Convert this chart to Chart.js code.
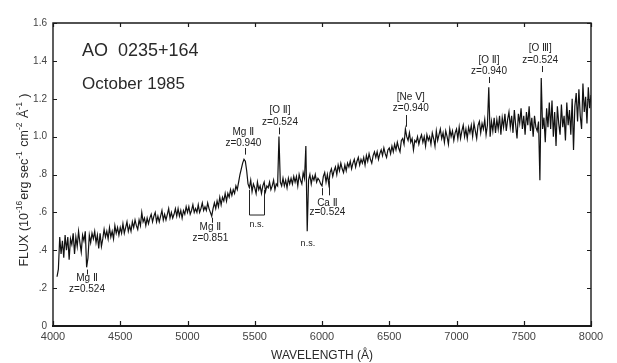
<!DOCTYPE html>
<html>
<head>
<meta charset="utf-8">
<script src="https://cdn.jsdelivr.net/npm/chart.js@4/dist/chart.umd.min.js"></script>
<style>
  html, body { margin: 0; padding: 0; background: #ffffff; }
  canvas { display: block; }
</style>
</head>
<body>
<canvas id="spec" width="617" height="363"></canvas>
<script>
// Spectrum of AO 0235+164, October 1985: flux sampled every 10 Å from 4030 Å
const SPEC_START = 4030;
const SPEC_STEP = 10;

// 4030 – 4990 Å
const fluxBlue = [
  0.26, 0.30, 0.47, 0.38, 0.45, 0.36, 0.48,
  0.40, 0.47, 0.35, 0.46, 0.43, 0.49, 0.38, 0.47, 0.42, 0.50,
  0.44, 0.39, 0.48, 0.45, 0.50, 0.31, 0.36, 0.48, 0.44, 0.49,
  0.46, 0.50, 0.44, 0.48, 0.41, 0.49, 0.42, 0.46, 0.51, 0.47,
  0.50, 0.46, 0.52, 0.47, 0.50, 0.46, 0.53, 0.49, 0.52, 0.48,
  0.52, 0.49, 0.54, 0.49, 0.52, 0.55, 0.50, 0.53, 0.50, 0.55,
  0.52, 0.56, 0.53, 0.51, 0.56, 0.53, 0.60, 0.55, 0.57, 0.53,
  0.57, 0.54, 0.57, 0.59, 0.55, 0.58, 0.60, 0.55, 0.58, 0.55,
  0.58, 0.61, 0.56, 0.59, 0.56, 0.59, 0.62, 0.57, 0.60, 0.57,
  0.59, 0.62, 0.58, 0.62, 0.58, 0.61, 0.57, 0.61, 0.59, 0.63
];

// 5000 – 6590 Å
const fluxMid = [
  0.60, 0.63, 0.59, 0.61, 0.64, 0.60, 0.62, 0.60, 0.64, 0.60,
  0.62, 0.65, 0.61, 0.63, 0.61, 0.65, 0.62, 0.60, 0.58, 0.62,
  0.65, 0.62, 0.66, 0.63, 0.68, 0.64, 0.68, 0.66, 0.70, 0.66,
  0.70, 0.68, 0.72, 0.69, 0.72, 0.70, 0.74, 0.72, 0.76, 0.80,
  0.83, 0.86, 0.88, 0.87, 0.82, 0.75, 0.73, 0.77, 0.71, 0.75,
  0.73, 0.70, 0.76, 0.72, 0.74, 0.70, 0.74, 0.76, 0.71, 0.74,
  0.73, 0.76, 0.72, 0.74, 0.77, 0.72, 0.75, 0.74, 1.00, 0.76,
  0.74, 0.78, 0.74, 0.77, 0.73, 0.78, 0.75, 0.78, 0.75, 0.79,
  0.76, 0.79, 0.74, 0.80, 0.77, 0.75, 0.81, 0.78, 0.95, 0.50,
  0.77, 0.80, 0.75, 0.79, 0.77, 0.80, 0.76, 0.78, 0.77, 0.75,
  0.74, 0.79, 0.81, 0.76, 0.80, 0.75, 0.81, 0.83, 0.79, 0.82,
  0.84, 0.80, 0.85, 0.82, 0.86, 0.83, 0.81, 0.85, 0.82, 0.86,
  0.84, 0.87, 0.83, 0.86, 0.88, 0.84, 0.87, 0.89, 0.85, 0.88,
  0.86, 0.89, 0.85, 0.90, 0.87, 0.91, 0.88, 0.86, 0.90, 0.92,
  0.89, 0.92, 0.88, 0.91, 0.93, 0.90, 0.94, 0.91, 0.89, 0.93,
  0.94, 0.91, 0.95, 0.92, 0.96, 0.93, 0.97, 0.94, 0.92, 0.98
];

// 6600 – 8000 Å
const fluxRed = [
  0.99, 0.96, 1.04, 1.00, 0.98, 1.02, 0.97, 0.99, 0.93, 0.98,
  0.97, 1.00, 0.96, 0.99, 1.01, 0.97, 1.00, 0.95, 1.01, 0.98,
  1.00, 0.96, 1.02, 0.99, 0.95, 1.03, 0.98, 1.01, 1.04, 0.99,
  1.02, 0.97, 1.03, 1.00, 0.96, 1.04, 1.00, 1.03, 0.98, 1.02,
  1.04, 0.99, 1.05, 0.99, 1.03, 1.06, 1.00, 1.04, 0.99, 1.05,
  1.02, 1.06, 1.00, 1.07, 1.03, 0.99, 1.06, 1.08, 1.02, 1.07,
  1.04, 1.09, 1.01, 1.06, 1.26, 1.00, 1.08, 1.03, 1.10, 1.02,
  1.09, 1.04, 1.11, 1.01, 1.10, 1.05, 1.12, 1.03, 1.09, 1.13,
  1.05, 1.11, 1.02, 1.14, 1.06, 0.99, 1.12, 1.07, 1.15, 1.04,
  1.11, 1.01, 1.13, 1.06, 1.16, 1.03, 1.10, 1.00, 1.11, 1.05,
  1.03, 1.08, 0.77, 1.31, 1.04, 1.10, 0.97, 1.15, 1.05, 1.18,
  1.04, 1.19, 1.00, 1.13, 0.95, 1.16, 1.07, 1.01, 1.17, 1.05,
  1.11, 0.98, 1.18, 1.06, 1.14, 1.01, 1.20, 0.93, 1.16, 1.23,
  1.08, 1.25, 1.11, 1.04, 1.28, 1.13, 1.21, 1.07, 1.26, 1.15,
  1.22
];

// Axis ticks
const wavelengthTicks = [4000, 4500, 5000, 5500, 6000, 6500, 7000, 7500, 8000];
const fluxTicks = [0, 0.2, 0.4, 0.6, 0.8, 1.0, 1.2, 1.4, 1.6];

// Identified features
const featureIons = ['Mg Ⅱ', 'Mg Ⅱ', 'Mg Ⅱ', '[O Ⅱ]', 'Ca Ⅱ', '[Ne Ⅴ]', '[O Ⅱ]', '[O Ⅲ]'];
const featureRedshifts = ['z=0.524', 'z=0.851', 'z=0.940', 'z=0.524', 'z=0.524', 'z=0.940', 'z=0.940', 'z=0.524'];

const flux = fluxBlue.concat(fluxMid, fluxRed);
const spectrum = flux.map((f, i) => ({ x: SPEC_START + i * SPEC_STEP, y: f }));

// Marker layout in data units: label anchor (wavelength; flux of ion line and of redshift line)
// and the short tick(s) pointing at each feature.
const featureMarks = [
  { i: 0, lx: 4253, ly1: 0.252, ly2: 0.195, ticks: [[4253, 0.298, 0.272]] },
  { i: 1, lx: 5170, ly1: 0.523, ly2: 0.466, ticks: [[5182, 0.572, 0.545]] },
  { i: 2, lx: 5415, ly1: 1.025, ly2: 0.966, ticks: [[5428, 0.94, 0.905]] },
  { i: 3, lx: 5688, ly1: 1.14, ly2: 1.078, ticks: [[5680, 1.048, 1.012]] },
  { i: 4, lx: 6040, ly1: 0.65, ly2: 0.602, ticks: [[6000, 0.728, 0.69], [6052, 0.765, 0.69]] },
  { i: 5, lx: 6660, ly1: 1.209, ly2: 1.151, ticks: [[6628, 1.114, 1.052]] },
  { i: 6, lx: 7242, ly1: 1.405, ly2: 1.347, ticks: [[7240, 1.315, 1.283]] },
  { i: 7, lx: 7622, ly1: 1.468, ly2: 1.405, ticks: [[7632, 1.373, 1.341]] }
];

const FONT = '"Liberation Sans", "DejaVu Sans", Arial, sans-serif';

const frameAndNotes = {
  id: 'frameAndNotes',
  afterDraw(chart) {
    const c = chart.ctx;
    const xs = chart.scales.x, ys = chart.scales.y;
    const a = chart.chartArea;
    const X = v => xs.getPixelForValue(v);
    const Y = v => ys.getPixelForValue(v);
    c.save();

    // frame
    c.strokeStyle = '#1a1a1a';
    c.lineWidth = 1.4;
    c.beginPath();
    c.moveTo(a.left, a.bottom); c.lineTo(a.left, a.top); c.lineTo(a.right, a.top); c.lineTo(a.right, a.bottom);
    c.stroke();
    c.lineWidth = 2;
    c.beginPath(); c.moveTo(a.left - 1, a.bottom); c.lineTo(a.right + 1, a.bottom); c.stroke();

    // inward ticks on all four sides
    c.lineWidth = 1.2;
    c.beginPath();
    wavelengthTicks.forEach(w => {
      const px = Math.round(X(w)) + 0.5;
      c.moveTo(px, a.bottom); c.lineTo(px, a.bottom - 5);
      c.moveTo(px, a.top); c.lineTo(px, a.top + 4);
    });
    fluxTicks.forEach(f => {
      const py = Math.round(Y(f)) + 0.5;
      c.moveTo(a.left, py); c.lineTo(a.left + 4, py);
      c.moveTo(a.right, py); c.lineTo(a.right - 4, py);
    });
    c.stroke();

    // object name and epoch
    c.fillStyle = '#2a2a2a';
    c.textBaseline = 'middle';
    c.textAlign = 'left';
    c.font = '18px ' + FONT;
    c.fillText('AO  0235+164', 82, 51);
    c.font = '17px ' + FONT;
    c.fillText('October 1985', 82, 84);

    // feature markers
    c.strokeStyle = '#222';
    c.lineWidth = 1;
    c.fillStyle = '#222';
    c.font = '10px ' + FONT;
    c.textAlign = 'center';
    featureMarks.forEach(m => {
      c.beginPath();
      m.ticks.forEach(t => {
        const px = Math.round(X(t[0])) + 0.5;
        c.moveTo(px, Y(t[1])); c.lineTo(px, Y(t[2]));
      });
      c.stroke();
      c.fillText(featureIons[m.i], X(m.lx), Y(m.ly1));
      c.fillText(featureRedshifts[m.i], X(m.lx), Y(m.ly2));
    });

    // n.s. bracket (night-sky residuals)
    c.beginPath();
    const b1 = Math.round(X(5457)) + 0.5, b2 = Math.round(X(5569)) + 0.5;
    c.moveTo(b1, Y(0.718)); c.lineTo(b1, Y(0.586)); c.lineTo(b2, Y(0.586)); c.lineTo(b2, Y(0.718));
    c.stroke();
    c.font = '9px ' + FONT;
    c.fillText('n.s.', X(5515), Y(0.538));
    c.fillText('n.s.', X(5895), Y(0.438));

    // axis titles
    c.fillStyle = '#2a2a2a';
    c.font = '12px ' + FONT;
    c.textAlign = 'center';
    c.fillText('WAVELENGTH (Å)', 322, 356);

    const parts = [
      ['FLUX (10', false], ['-16', true], ['erg sec', false], ['-1', true],
      [' cm', false], ['-2', true], [' Å', false], ['-1', true], [' )', false]
    ];
    const big = '12.5px ' + FONT, small = '8.5px ' + FONT;
    let total = 0;
    parts.forEach(p => { c.font = p[1] ? small : big; total += c.measureText(p[0]).width + (p[1] ? 1 : 0); });
    c.translate(25, 180);
    c.rotate(-Math.PI / 2);
    c.textAlign = 'left';
    let cx = -total / 2;
    parts.forEach(p => {
      c.font = p[1] ? small : big;
      c.fillText(p[0], cx, p[1] ? -5 : 0);
      cx += c.measureText(p[0]).width + (p[1] ? 1 : 0);
    });
    c.restore();
  }
};

new Chart(document.getElementById('spec'), {
  type: 'line',
  data: {
    datasets: [{
      data: spectrum,
      borderColor: '#111',
      borderWidth: 1.2,
      pointRadius: 0,
      tension: 0,
      fill: false
    }]
  },
  options: {
    responsive: false,
    animation: false,
    layout: { padding: { top: 23, right: 26, left: 0, bottom: 0 } },
    plugins: { legend: { display: false }, tooltip: { enabled: false } },
    scales: {
      x: {
        type: 'linear',
        min: 4000, max: 8000,
        afterFit(s) { s.height = 37; },
        afterBuildTicks(s) { s.ticks = wavelengthTicks.map(v => ({ value: v })); },
        grid: { display: false, drawTicks: false },
        border: { display: false },
        ticks: {
          autoSkip: false, maxRotation: 0, padding: 4,
          color: '#444', font: { family: FONT, size: 11 },
          callback: v => String(v)
        }
      },
      y: {
        min: 0, max: 1.6,
        afterFit(s) { s.width = 53; },
        afterBuildTicks(s) { s.ticks = fluxTicks.map(v => ({ value: v })); },
        grid: { display: false, drawTicks: false },
        border: { display: false },
        ticks: {
          autoSkip: false, padding: 6,
          color: '#444', font: { family: FONT, size: 10 },
          callback: v => {
            const r = Math.round(v * 10) / 10;
            if (r === 0) return '0';
            return r < 1 ? '.' + Math.round(r * 10) : r.toFixed(1);
          }
        }
      }
    }
  },
  plugins: [frameAndNotes]
});
</script>
</body>
</html>
